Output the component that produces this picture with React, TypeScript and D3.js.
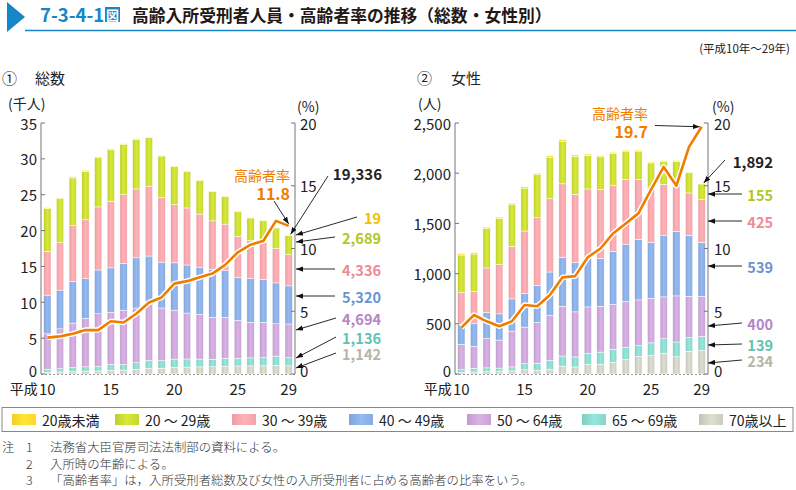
import React from "react";
import * as d3 from "d3";

// ---------- data ----------
const years = [10, 11, 12, 13, 14, 15, 16, 17, 18, 19, 20, 21, 22, 23, 24, 25, 26, 27, 28, 29];
const xTickYears = [10, 15, 20, 25, 29];
const ageLabels = ["20歳未満", "20 ～ 29歳", "30 ～ 39歳", "40 ～ 49歳", "50 ～ 64歳", "65 ～ 69歳", "70歳以上"];

// 総数 (persons)
const totU20 = [150, 160, 170, 160, 150, 140, 130, 120, 110, 100, 90, 80, 70, 60, 55, 50, 40, 35, 30, 19];
const tot20s = [5950, 6140, 6630, 6740, 6850, 7160, 6970, 6880, 6740, 5800, 5310, 5070, 4680, 4090, 3845, 3450, 3160, 3115, 2870, 2689];
const tot30s = [6100, 6600, 7800, 8200, 8800, 9300, 9600, 9600, 9750, 9000, 8100, 7950, 7400, 6750, 6500, 5700, 5300, 5150, 4800, 4336];
const tot40s = [5400, 5400, 5800, 5550, 6100, 6200, 6500, 7000, 6750, 6400, 6600, 6700, 6600, 6700, 6500, 6000, 6100, 5950, 5700, 5320];
const tot50s = [4930, 5560, 6220, 6750, 7340, 7280, 7580, 7630, 7820, 7340, 6820, 6410, 6220, 5860, 5740, 5300, 4950, 4920, 4500, 4694];
const tot65s = [420, 450, 550, 600, 640, 800, 780, 920, 1100, 1060, 1150, 1120, 1080, 1030, 1070, 1080, 1120, 1140, 1300, 1136];
const tot70p = [250, 290, 330, 400, 420, 520, 540, 650, 780, 800, 930, 970, 1000, 1010, 1090, 1120, 1130, 1140, 1200, 1142];
const totRate = [2.9, 3.0, 3.2, 3.5, 3.5, 4.2, 4.1, 4.8, 5.7, 6.1, 7.2, 7.4, 7.7, 8.0, 8.7, 9.7, 10.3, 10.6, 12.2, 11.8];

// 女性 (persons)
const femU20 = [15, 15, 15, 15, 15, 15, 15, 15, 15, 15, 12, 12, 10, 10, 10, 10, 10, 8, 8, 0];
const fem20s = [374, 375, 392, 459, 416, 428, 429, 415, 425, 377, 335, 323, 322, 280, 285, 240, 225, 249, 201, 155];
const fem30s = [316, 320, 443, 490, 523, 623, 675, 729, 732, 680, 691, 688, 654, 647, 593, 550, 512, 448, 422, 425];
const fem40s = [200, 225, 259, 261, 321, 334, 368, 430, 487, 491, 484, 477, 530, 568, 604, 559, 610, 644, 607, 539];
const fem50s = [251, 219, 293, 279, 356, 365, 405, 449, 496, 449, 464, 457, 445, 459, 453, 443, 417, 459, 410, 400];
const fem65s = [27, 36, 38, 30, 40, 60, 70, 90, 100, 100, 110, 122, 131, 122, 111, 127, 144, 148, 138, 139];
const fem70p = [17, 20, 23, 29, 31, 42, 38, 47, 79, 70, 94, 96, 116, 144, 174, 183, 207, 171, 226, 234];
const femRate = [3.7, 4.7, 4.2, 3.8, 4.2, 5.5, 5.4, 6.3, 7.7, 7.8, 9.3, 10.0, 11.2, 12.0, 12.8, 14.7, 16.5, 15.0, 18.1, 19.7];

const leftTicksTot = [0, 5, 10, 15, 20, 25, 30, 35];
const leftTicksFem = [0, 500, 1000, 1500, 2000, 2500];
const rateTicks = [0, 5, 10, 15, 20];

// ---------- styles ----------
const barColors = ["#FFD42A", "#C5D632", "#F5A3A9", "#87AADF", "#C7A3D3", "#88D4C8", "#CBCCBF"];
const labelColors = ["#F2BE00", "#B3C61C", "#EE8B92", "#6A93D3", "#B386C5", "#5FC3B6", "#B5B6A7"];
const ORANGE = "#EF7D00";
const FONT = "'Noto Sans CJK JP', 'Noto Sans', sans-serif";
const AXIS = "#777";

type Ann = { t: string; k: number; y: number; sx: number; sy?: number; ex: number; ey: number };

function Panel(props: {
  id: string;
  x0: number;
  x1: number;
  series: number[][];
  rate: number[];
  yMax: number;
  yDiv: number;
  leftTicks: number[];
  leftFmt: (v: number) => string;
  leftLabelX: number;
  rightLabelX: number;
  unit: string;
  unitX: number;
  pctX: number;
  anns: Ann[];
  total: { t: string; x: number; y: number; sx: number; sy: number };
  rateAnn: { x: number; y1: number; y2: number; sx: number; sy: number; horizontal?: boolean };
}) {
  const { x0, x1, series, rate, yMax, yDiv } = props;
  const yTop = 123;
  const yBot = 374;
  const rows = years.map((yr, i) => {
    const r: any = { year: yr };
    series.forEach((s, k) => (r["k" + k] = s[i] / yDiv));
    return r;
  });
  const keys = series.map((_, k) => "k" + k);
  const stack = d3.stack<any>().keys(keys.slice().reverse())(rows);
  const x = d3.scaleBand<number>().domain(years).range([x0, x1]).paddingInner(0.42).paddingOuter(0.21);
  const y = d3.scaleLinear().domain([0, yMax]).range([yBot, yTop]);
  const yr = d3.scaleLinear().domain([0, 20]).range([yBot, yTop]);
  const cx = (yv: number) => (x(yv) as number) + x.bandwidth() / 2;
  const line = d3
    .line<number>()
    .x((_, i) => cx(years[i]))
    .y((d) => yr(d));
  const lastIdx = years.length - 1;
  const totalLast = series.reduce((a, s) => a + s[lastIdx], 0) / yDiv;

  return (
    <g>
      {/* bars */}
      {stack.map((layer) => {
        const k = +layer.key.slice(1);
        return (
          <g key={layer.key}>
            {layer.map((d, i) =>
              d[1] - d[0] > 0 ? (
                <rect
                  key={i}
                  x={x(years[i])}
                  width={x.bandwidth()}
                  y={y(d[1])}
                  height={Math.max(0, y(d[0]) - y(d[1]))}
                  fill={`url(#grad${k})`}
                  stroke="#fff"
                  strokeWidth={0.5}
                />
              ) : null
            )}
          </g>
        );
      })}
      {/* axes */}
      <line x1={x0} x2={x0} y1={yTop} y2={yBot} stroke={AXIS} strokeWidth={1} />
      <line x1={x1} x2={x1} y1={yTop} y2={yBot} stroke={AXIS} strokeWidth={1} />
      <line x1={x0} x2={x1} y1={yBot + 0.5} y2={yBot + 0.5} stroke="#999" strokeWidth={1} strokeDasharray="2,2" />
      {props.leftTicks.map((t) => (
        <g key={"l" + t}>
          <line x1={x0} x2={x0 + 4} y1={y(t)} y2={y(t)} stroke={AXIS} />
          <text
            x={props.leftLabelX}
            y={y(t) - (t === 0 ? 4 : 0)}
            textAnchor="end"
            dominantBaseline="central"
            fontSize={15}
            fill="#222"
          >
            {props.leftFmt(t)}
          </text>
        </g>
      ))}
      {rateTicks.map((t) => (
        <g key={"r" + t}>
          <line x1={x1 - 4} x2={x1} y1={yr(t)} y2={yr(t)} stroke={AXIS} />
          <text
            x={props.rightLabelX}
            y={yr(t) - (t === 0 ? 4 : 0)}
            textAnchor="start"
            dominantBaseline="central"
            fontSize={15}
            fill="#222"
          >
            {t}
          </text>
        </g>
      ))}
      <text x={props.unitX} y={103} textAnchor="start" dominantBaseline="central" fontSize={14} fill="#222">
        {props.unit}
      </text>
      <text x={props.pctX} y={106} textAnchor="start" dominantBaseline="central" fontSize={14} fill="#222">
        (%)
      </text>
      {/* x tick labels */}
      {xTickYears.map((t) => (
        <g key={"x" + t}>
          <text x={cx(t)} y={388} textAnchor="middle" dominantBaseline="central" fontSize={15} fill="#222">
            {t}
          </text>
          {t === 10 ? (
            <text x={cx(t) - 9.5} y={388} textAnchor="end" dominantBaseline="central" fontSize={14} fill="#222">
              平成
            </text>
          ) : null}
        </g>
      ))}
      {/* rate line */}
      <path d={line(rate) || ""} fill="none" stroke="#fff" strokeWidth={5.5} strokeLinejoin="round" />
      <path d={line(rate) || ""} fill="none" stroke={ORANGE} strokeWidth={2.6} strokeLinejoin="round" />
      {/* annotations */}
      {props.anns.map((a, i) => (
        <g key={"a" + i}>
          <line x1={a.sx} y1={a.sy ?? a.y} x2={a.ex} y2={a.ey} stroke="#111" strokeWidth={0.9} markerEnd="url(#ah)" />
          <text
            x={props.id === "L" ? 381 : 773}
            y={a.y}
            textAnchor="end"
            dominantBaseline="central"
            fontSize={14.5}
            fontWeight={600}
            fill={labelColors[a.k]}
          >
            {a.t}
          </text>
        </g>
      ))}
      <line
        x1={props.total.sx}
        y1={props.total.sy}
        x2={cx(years[lastIdx]) + 2}
        y2={y(totalLast) - 1}
        stroke="#111"
        strokeWidth={0.9}
        markerEnd="url(#ah)"
      />
      <text x={props.total.x} y={props.total.y} textAnchor="end" dominantBaseline="central" fontSize={15} fontWeight={600} fill="#222">
        {props.total.t}
      </text>
      <text x={props.rateAnn.x} y={props.rateAnn.y1} textAnchor="end" dominantBaseline="central" fontSize={14} fill={ORANGE}>
        高齢者率
      </text>
      <text x={props.rateAnn.x} y={props.rateAnn.y2} textAnchor="end" dominantBaseline="central" fontSize={16} fontWeight={600} fill={ORANGE}>
        {rate[lastIdx].toFixed(1)}
      </text>
      <line
        x1={props.rateAnn.sx}
        y1={props.rateAnn.sy}
        x2={cx(years[lastIdx]) - (props.rateAnn.horizontal ? 2 : 0)}
        y2={yr(rate[lastIdx]) - (props.rateAnn.horizontal ? 0 : 2)}
        stroke="#111"
        strokeWidth={0.9}
        markerEnd="url(#ah)"
      />
    </g>
  );
}

export default function App() {
  const totSeries = [totU20, tot20s, tot30s, tot40s, tot50s, tot65s, tot70p];
  const femSeries = [femU20, fem20s, fem30s, fem40s, fem50s, fem65s, fem70p];
  const last = years.length - 1;
  const fmt = d3.format(",");

  const leftAnns: Ann[] = [
    { t: fmt(totU20[last]), k: 0, y: 217, sx: 357, ex: 296, ey: 235 },
    { t: fmt(tot20s[last]), k: 1, y: 237, sx: 335, ex: 296, ey: 242 },
    { t: fmt(tot30s[last]), k: 2, y: 269, sx: 335, ex: 296, ey: 269 },
    { t: fmt(tot40s[last]), k: 3, y: 296, sx: 335, ex: 296, ey: 296 },
    { t: fmt(tot50s[last]), k: 4, y: 318, sx: 336, ex: 296, ey: 330 },
    { t: fmt(tot65s[last]), k: 5, y: 337, sx: 336, ex: 296, ey: 358 },
    { t: fmt(tot70p[last]), k: 6, y: 353, sx: 336, ex: 296, ey: 368 },
  ];
  const rightAnns: Ann[] = [
    { t: fmt(fem20s[last]), k: 1, y: 194, sx: 742, ex: 708, ey: 194 },
    { t: fmt(fem30s[last]), k: 2, y: 221, sx: 742, ex: 708, ey: 221 },
    { t: fmt(fem40s[last]), k: 3, y: 266, sx: 742, ex: 708, ey: 266 },
    { t: fmt(fem50s[last]), k: 4, y: 323, sx: 742, ex: 708, ey: 326 },
    { t: fmt(fem65s[last]), k: 5, y: 344, sx: 742, ex: 708, ey: 345 },
    { t: fmt(fem70p[last]), k: 6, y: 360, sx: 742, ex: 708, ey: 363 },
  ];
  const totSum = totSeries.reduce((a, s) => a + s[last], 0);
  const femSum = femSeries.reduce((a, s) => a + s[last], 0);

  const legendX = [12, 115, 232, 349, 467, 582, 699];

  return (
    <svg width={796} height={490} style={{ position: "absolute", left: 0, top: 0, fontFamily: FONT }}>
      <defs>
        {barColors.map((c, k) => {
          const base = d3.color(c)!;
          return (
            <linearGradient id={"grad" + k} key={k} x1="0" x2="1" y1="0" y2="0">
              <stop offset="0" stopColor={base.darker(0.12).formatHex()} />
              <stop offset="0.5" stopColor={base.brighter(0.25).formatHex()} />
              <stop offset="1" stopColor={base.formatHex()} />
            </linearGradient>
          );
        })}
        <marker id="ah" viewBox="0 0 8 6" refX="8" refY="3" markerWidth="7" markerHeight="5.5" markerUnits="userSpaceOnUse" orient="auto">
          <path d="M0,0 L8,3 L0,6 z" fill="#111" />
        </marker>
      </defs>
      <rect x={0} y={0} width={796} height={490} fill="#fff" />
      {/* title */}
      <path d="M7,2 L25,17 L7,32 Z" fill="#1686C6" />
      <line x1={25} x2={796} y1={30.5} y2={30.5} stroke="#1686C6" strokeWidth={1.5} />
      <text x={40} y={22} fontSize={18.5} fontWeight={700} fill="#1686C6">
        7-3-4-1
      </text>
      <rect x={105} y={7} width={15} height={15} fill="#1686C6" />
      <text x={112.5} y={19.5} fontSize={13} fontWeight={700} fill="#fff" textAnchor="middle">
        図
      </text>
      <text x={132} y={22} fontSize={16.8} fontWeight={600} fill="#231815">
        高齢入所受刑者人員・高齢者率の推移（総数・女性別）
      </text>
      <text x={790} y={48} fontSize={11.5} textAnchor="end" dominantBaseline="central" fill="#222">
        (平成10年～29年)
      </text>
      <text x={2} y={77} fontSize={15} dominantBaseline="central" fill="#222">
        ①
      </text>
      <text x={35} y={77} fontSize={15} dominantBaseline="central" fill="#222">
        総数
      </text>
      <text x={417} y={77} fontSize={15} dominantBaseline="central" fill="#222">
        ②
      </text>
      <text x={451} y={77} fontSize={15} dominantBaseline="central" fill="#222">
        女性
      </text>

      <Panel
        id="L"
        x0={41}
        x1={295}
        series={totSeries}
        rate={totRate}
        yMax={35}
        yDiv={1000}
        leftTicks={leftTicksTot}
        leftFmt={(v) => String(v)}
        leftLabelX={37}
        rightLabelX={300}
        unit="(千人)"
        unitX={8}
        pctX={297}
        anns={leftAnns}
        total={{ t: fmt(totSum), x: 382, y: 173, sx: 328, sy: 176 }}
        rateAnn={{ x: 290, y1: 175, y2: 193, sx: 274, sy: 201 }}
      />
      <Panel
        id="R"
        x0={455}
        x1={708}
        series={femSeries}
        rate={femRate}
        yMax={2500}
        yDiv={1}
        leftTicks={leftTicksFem}
        leftFmt={(v) => fmt(v)}
        leftLabelX={451}
        rightLabelX={714}
        unit="(人)"
        unitX={418}
        pctX={712}
        anns={rightAnns}
        total={{ t: fmt(femSum), x: 773, y: 161, sx: 725, sy: 160 }}
        rateAnn={{ x: 648, y1: 113, y2: 131, sx: 655, sy: 125.5, horizontal: true }}
      />

      {/* legend */}
      <rect x={2} y={407.5} width={791} height={24} fill="#fff" stroke="#888" strokeWidth={1} />
      {ageLabels.map((lab, k) => (
        <g key={"lg" + k}>
          <rect x={legendX[k]} y={414} width={24} height={11} fill={`url(#grad${k})`} />
          <text x={legendX[k] + 30} y={420} fontSize={14} dominantBaseline="central" fill="#222">
            {lab}
          </text>
        </g>
      ))}

      {/* notes */}
      <g fontSize={12.4} fill="#333" fontWeight={300}>
        <text x={2} y={447} dominantBaseline="central">注</text>
        <text x={26} y={447} dominantBaseline="central">1</text>
        <text x={50} y={447} dominantBaseline="central">法務省大臣官房司法法制部の資料による。</text>
        <text x={26} y={463.5} dominantBaseline="central">2</text>
        <text x={50} y={463.5} dominantBaseline="central">入所時の年齢による。</text>
        <text x={26} y={480} dominantBaseline="central">3</text>
        <text x={50} y={480} dominantBaseline="central">「高齢者率」は，入所受刑者総数及び女性の入所受刑者に占める高齢者の比率をいう。</text>
      </g>
    </svg>
  );
}
